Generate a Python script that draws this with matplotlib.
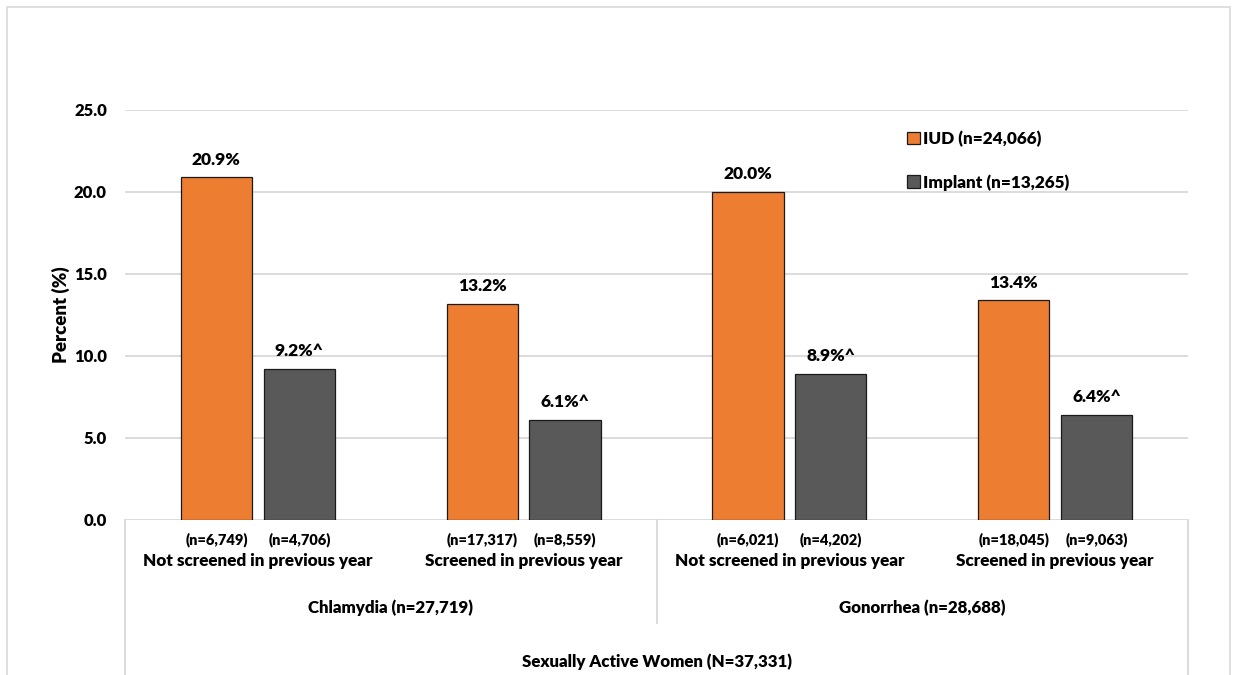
import matplotlib
matplotlib.use("Agg")
import matplotlib.pyplot as plt
from matplotlib.patches import Rectangle
from matplotlib.lines import Line2D
import numpy as np

WEIGHT = "heavy"
plt.rcParams['font.family'] = ['Lato', 'DejaVu Sans']
plt.rcParams['font.weight'] = WEIGHT

categories = ["Not screened in previous year", "Screened in previous year",
              "Not screened in previous year", "Screened in previous year"]
groups = ["Chlamydia (n=27,719)", "Gonorrhea (n=28,688)"]
overall = "Sexually Active Women (N=37,331)"
iud_values = [20.9, 13.2, 20.0, 13.4]
implant_values = [9.2, 6.1, 8.9, 6.4]
iud_labels = ["20.9%", "13.2%", "20.0%", "13.4%"]
implant_labels = ["9.2%^", "6.1%^", "8.9%^", "6.4%^"]
iud_n = ["(n=6,749)", "(n=17,317)", "(n=6,021)", "(n=18,045)"]
implant_n = ["(n=4,706)", "(n=8,559)", "(n=4,202)", "(n=9,063)"]
series_names = ["IUD (n=24,066)", "Implant (n=13,265)"]
yticks = [0, 5, 10, 15, 20, 25]

ORANGE = "#ED7D31"
GREY = "#595959"
GRID = "#D9D9D9"

W, H = 1233, 675
fig = plt.figure(figsize=(W / 100, H / 100), dpi=100)
fig.patch.set_facecolor("white")
# outer frame
fig.add_artist(Rectangle((7 / W, -0.05), (1230 - 7) / W, 1 - 7 / H + 0.05,
                         transform=fig.transFigure, fill=False,
                         edgecolor="#D9D9D9", lw=1.2))

left, right = 125 / W, 1188 / W
bottom, top = 1 - 520 / H, 1 - 110 / H
ax = fig.add_axes([left, bottom, right - left, top - bottom])

x = np.arange(len(categories))
bw = 0.268
off = 0.156
b1 = ax.bar(x - off, iud_values, bw, color=ORANGE, edgecolor="#1a1a1a", lw=0.9, zorder=3)
b2 = ax.bar(x + off, implant_values, bw, color=GREY, edgecolor="#1a1a1a", lw=0.9, zorder=3)

ax.set_xlim(-0.5, 3.5)
ax.set_ylim(0, 25)
ax.set_yticks(yticks)
ax.set_yticklabels([f"{v:.1f}" for v in yticks], fontsize=12, fontweight=WEIGHT)
ax.tick_params(axis="y", length=0, pad=13)
ax.set_xticks([])
for s in ax.spines.values():
    s.set_visible(False)
for v in yticks:
    ax.axhline(v, color=GRID, lw=1.3, zorder=0)
ax.set_ylabel("Percent (%)", fontsize=13.5, fontweight=WEIGHT, labelpad=3)

for rect, lab in zip(b1, iud_labels):
    ax.annotate(lab, (rect.get_x() + rect.get_width() / 2, rect.get_height()),
                xytext=(0, 7), textcoords="offset points", ha="center", va="bottom",
                fontsize=12.5, fontweight=WEIGHT)
for rect, lab in zip(b2, implant_labels):
    ax.annotate(lab, (rect.get_x() + rect.get_width() / 2, rect.get_height()),
                xytext=(0, 7), textcoords="offset points", ha="center", va="bottom",
                fontsize=12.5, fontweight=WEIGHT)

tr = ax.get_xaxis_transform()

def axy(py):
    # convert pixel y (from top) to axes-fraction y
    fy = 1 - py / H
    return (fy - bottom) / (top - bottom)

for i in range(len(categories)):
    ax.text(x[i] - off, axy(540), iud_n[i], transform=tr, ha="center", va="center",
            fontsize=10.5, fontweight=WEIGHT)
    ax.text(x[i] + off, axy(540), implant_n[i], transform=tr, ha="center", va="center",
            fontsize=10.5, fontweight=WEIGHT)
    ax.text(x[i], axy(561), categories[i], transform=tr, ha="center", va="center",
            fontsize=12.3, fontweight=WEIGHT)
for g, name in enumerate(groups):
    ax.text(2 * g + 0.5, axy(608), name, transform=tr, ha="center", va="center",
            fontsize=12.2, fontweight=WEIGHT)
ax.text(1.5, axy(662), overall, transform=tr, ha="center", va="center",
        fontsize=12.2, fontweight=WEIGHT)

for xv, ybot in [(-0.5, 690), (1.5, 623), (3.5, 690)]:
    ax.add_line(Line2D([xv, xv], [0, axy(ybot)], transform=tr, color=GRID, lw=1.3,
                       clip_on=False))

# legend
handles = [Rectangle((0, 0), 1, 1, facecolor=ORANGE, edgecolor="#1a1a1a", lw=0.9),
           Rectangle((0, 0), 1, 1, facecolor=GREY, edgecolor="#1a1a1a", lw=0.9)]
leg = fig.legend(handles, series_names, loc="upper left",
                 bbox_to_anchor=(892 / W, 1 - 115 / H), frameon=False,
                 prop={"size": 12.3, "weight": WEIGHT}, handlelength=0.75,
                 handleheight=0.75, handletextpad=0.15, labelspacing=1.6)

fig.savefig("out.png", dpi=100)
